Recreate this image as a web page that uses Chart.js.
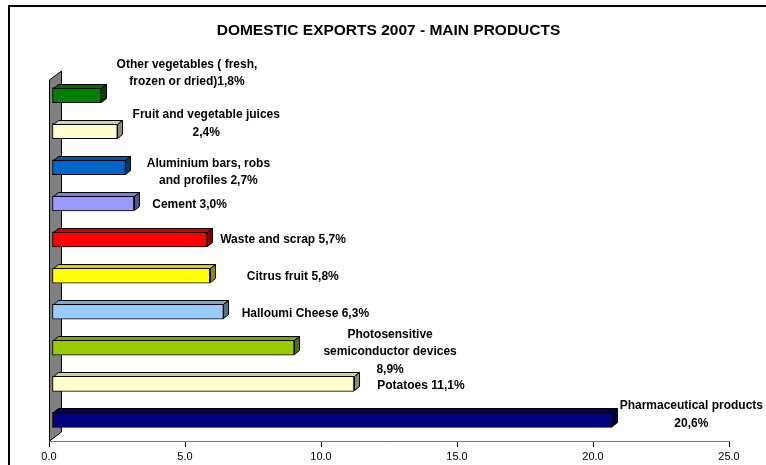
<!DOCTYPE html>
<html><head><meta charset="utf-8">
<script src="https://cdn.jsdelivr.net/npm/chart.js@4/dist/chart.umd.min.js"></script>
<style>html,body{margin:0;padding:0;background:#fff}#wrap{width:766px;height:465px;position:relative;overflow:hidden}</style>
</head><body><div id="wrap"><canvas id="c" width="766" height="465"></canvas></div>
<script>
const chartTitle = "DOMESTIC EXPORTS 2007 - MAIN PRODUCTS";
const categories = ["Other vegetables (fresh, frozen or dried)", "Fruit and vegetable juices", "Aluminium bars, robs and profiles", "Cement", "Waste and scrap", "Citrus fruit", "Halloumi Cheese", "Photosensitive semiconductor devices", "Potatoes", "Pharmaceutical products"];
const shares = [1.8, 2.4, 2.7, 3.0, 5.7, 5.8, 6.3, 8.9, 11.1, 20.6];
const labelTemplates = [
  "Other vegetables ( fresh,\nfrozen or dried){v}",
  "Fruit and vegetable juices\n{v}",
  "Aluminium bars, robs\nand profiles {v}",
  "Cement {v}",
  "Waste and scrap {v}",
  "Citrus fruit {v}",
  "Halloumi Cheese {v}",
  "Photosensitive\nsemiconductor devices\n{v}",
  "Potatoes {v}",
  "Pharmaceutical products\n{v}"
];
const axisMin = 0, axisMax = 25, axisStep = 5;

// styling (not data)
const barColors = ["#008000", "#FFFFCC", "#0066CC", "#9999FF", "#FF0000", "#FFFF00", "#99CCFF", "#99CC00", "#FFFFCC", "#000080"];
const labelNudge = [[86,-22],[89,-7.5],[83,5],[56,1.5],[76,0.5],[83,1],[82,2],[96,4],[67,1.5],[79,-5.5]];
const DX = 5, DY = -4, SX = 3, SY = -3;
const FONT = '"Liberation Sans", Arial, sans-serif';

function shade(hex, f) {
  const n = parseInt(hex.slice(1), 16);
  const r = Math.round(((n >> 16) & 255) * f), g = Math.round(((n >> 8) & 255) * f), b = Math.round((n & 255) * f);
  return `rgb(${r},${g},${b})`;
}
function fmt(v) { return v.toFixed(1).replace('.', ',') + '%'; }

function poly(ctx, pts, fill) {
  ctx.beginPath();
  ctx.moveTo(pts[0][0], pts[0][1]);
  for (let i = 1; i < pts.length; i++) ctx.lineTo(pts[i][0], pts[i][1]);
  ctx.closePath();
  ctx.fillStyle = fill; ctx.fill();
  ctx.strokeStyle = '#000'; ctx.lineWidth = 1; ctx.stroke();
}

const excel3d = {
  id: 'excel3d',
  beforeDraw(chart) {
    const ctx = chart.ctx;
    ctx.save();
    ctx.fillStyle = '#fff'; ctx.fillRect(0, 0, chart.width, chart.height);
    ctx.strokeStyle = '#000'; ctx.lineWidth = 2;
    ctx.strokeRect(9, 6, 900, 700);
    ctx.fillStyle = '#000';
    ctx.font = 'bold 15.5px ' + FONT;
    ctx.textAlign = 'center'; ctx.textBaseline = 'middle';
    ctx.fillText(chartTitle, 388.5, 31);
    ctx.restore();
  },
  beforeDatasetsDraw(chart) {
    const ctx = chart.ctx, a = chart.chartArea;
    const x0 = chart.scales.x.getPixelForValue(axisMin);
    ctx.save();
    poly(ctx, [[x0 + 0.5, a.top], [x0 + 12.5, a.top - 9], [x0 + 12.5, a.bottom - 9], [x0 + 0.5, a.bottom]], '#808080');
    ctx.restore();
    ctx.save();
    ctx.translate(SX, SY);
  },
  afterDatasetsDraw(chart) {
    const ctx = chart.ctx;
    const meta = chart.getDatasetMeta(0);
    meta.data.forEach((el, i) => {
      const p = el.getProps(['x', 'y', 'base', 'height'], true);
      const l = Math.round(p.base) + 0.5, r = Math.round(p.x) + 0.5;
      const t = Math.round(p.y - p.height / 2) + 0.5, b = Math.round(p.y + p.height / 2) - 0.5;
      const c = barColors[i];
      poly(ctx, [[l, t], [l + DX, t + DY], [r + DX, t + DY], [r, t]], shade(c, 0.82));
      poly(ctx, [[r, t], [r + DX, t + DY], [r + DX, b + DY], [r, b]], shade(c, 0.55));
    });
    ctx.restore();
    // data labels
    ctx.save();
    ctx.fillStyle = '#000';
    ctx.font = 'bold 12px ' + FONT;
    ctx.textAlign = 'center'; ctx.textBaseline = 'middle';
    const lh = 17.5;
    meta.data.forEach((el, i) => {
      const p = el.getProps(['x', 'y'], true);
      const lines = labelTemplates[i].replace('{v}', fmt(shares[i])).split('\n');
      const cx = p.x + SX + labelNudge[i][0];
      const cy = p.y + SY + labelNudge[i][1];
      lines.forEach((ln, k) => ctx.fillText(ln, cx, cy + (k - (lines.length - 1) / 2) * lh));
    });
    ctx.restore();
  }
};

new Chart(document.getElementById('c'), {
  type: 'bar',
  data: {
    labels: categories,
    datasets: [{
      data: shares,
      backgroundColor: barColors,
      borderColor: '#000',
      borderWidth: 1,
      borderSkipped: false,
      barThickness: 15,
      clip: false
    }]
  },
  options: {
    indexAxis: 'y',
    responsive: false,
    animation: false,
    devicePixelRatio: 1,
    layout: { padding: { left: 49, right: 37, top: 80, bottom: 0 } },
    plugins: { legend: { display: false }, title: { display: false }, tooltip: { enabled: false } },
    scales: {
      y: { display: false, offset: true },
      x: {
        type: 'linear', min: axisMin, max: axisMax,
        afterFit(scale) { scale.height = 24; },
        ticks: {
          stepSize: axisStep, padding: 3,
          color: '#000', font: { family: FONT, size: 11 },
          callback: v => Number(v).toFixed(1), maxRotation: 0
        },
        grid: { drawOnChartArea: false, drawTicks: true, tickLength: 6, color: '#000' },
        border: { display: true, color: '#777', width: 1 }
      }
    }
  },
  plugins: [excel3d]
});
</script>
</body></html>
